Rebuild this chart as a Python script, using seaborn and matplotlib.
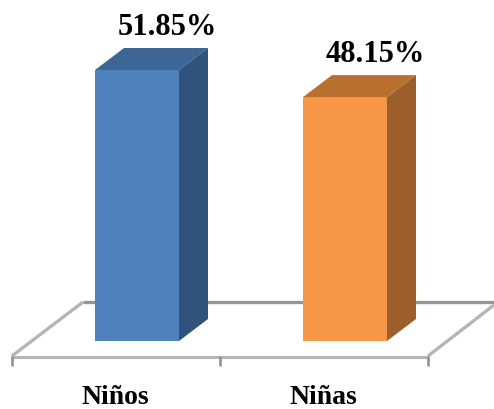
import matplotlib
matplotlib.use("Agg")
import matplotlib.pyplot as plt
import matplotlib.transforms as mtrans
from matplotlib.lines import Line2D
from matplotlib.patches import Polygon
import pandas as pd
import seaborn as sns

categories = ["Niños", "Niñas"]
values = [51.85, 48.15]
labels = ["51.85%", "48.15%"]
front_colors = ["#4F81BD", "#F79646"]
top_colors = ["#3C6696", "#B9702F"]
side_colors = ["#30527C", "#9C5F2B"]

W, H = 494, 409
df = pd.DataFrame({"grupo": categories, "pct": values})

sns.set_style("white")
plt.rcParams["font.family"] = ["Liberation Serif", "DejaVu Serif"]

fig = plt.figure(figsize=(W / 100, H / 100), dpi=100)
base_px = 341
ax = fig.add_axes([0, (H - base_px) / H, 1, base_px / H])
ax.patch.set_visible(False)

sns.barplot(data=df, x="grupo", y="pct", hue="grupo", palette=front_colors,
            saturation=1, width=84 / 208, legend=False, linewidth=0, ax=ax)

# bars are not zero based in the original
ax.set_xlim(-137 / 208, (W - 137) / 208)
ax.set_ylim(14.85, 14.85 + base_px / 7.324)
ax.axis("off")


def floor_line(xs, ys, color="#ABABAB", lw=2.2):
    fig.add_artist(Line2D([x / W for x in xs], [1 - y / H for y in ys],
                          color=color, lw=lw, zorder=-1,
                          transform=fig.transFigure, solid_capstyle="butt"))


# floor of the 3d box, behind the bars
floor_line([83, 494], [302, 302], color="#969696", lw=2.4)
floor_line([12, 83], [356, 302], color="#B5B5B5", lw=2.4)
floor_line([428, 494], [356, 305], color="#B5B5B5", lw=2.4)
floor_line([11, 428], [357, 357], color="#B5B5B5", lw=2.2)
for x in [12, 220, 428]:
    floor_line([x, x], [356, 366], color="#969696", lw=2.0)

# depth faces, built from the bars seaborn placed
dx, dy = 29, 22
for bar, top_c, side_c, txt in zip(ax.patches, top_colors, side_colors, labels):
    box = bar.get_window_extent(fig.canvas.get_renderer())
    x0, x1, y1 = box.x0, box.x1, box.y1
    y0 = H - base_px
    top = [(x0, y1), (x0 + dx, y1 + dy), (x1 + dx, y1 + dy), (x1, y1)]
    side = [(x1, y1), (x1 + dx, y1 + dy), (x1 + dx, y0 + dy), (x1, y0)]
    fig.add_artist(Polygon(top, closed=True, fc=top_c, ec="none",
                           transform=mtrans.IdentityTransform(), zorder=3))
    fig.add_artist(Polygon(side, closed=True, fc=side_c, ec="none",
                           transform=mtrans.IdentityTransform(), zorder=3))
    fig.text((x0 + x1) / 2 / W + 30 / W, (y1 + dy + 13) / H, txt,
             ha="center", va="baseline", fontsize=22, fontweight="bold",
             color="black")

for i, cat in enumerate(categories):
    x_px = ax.transData.transform((i, 0))[0]
    fig.text((x_px - 22) / W, 1 - 404 / H, cat, ha="center", va="baseline",
             fontsize=20, fontweight="bold", color="black")

fig.savefig("out.png", dpi=100)
